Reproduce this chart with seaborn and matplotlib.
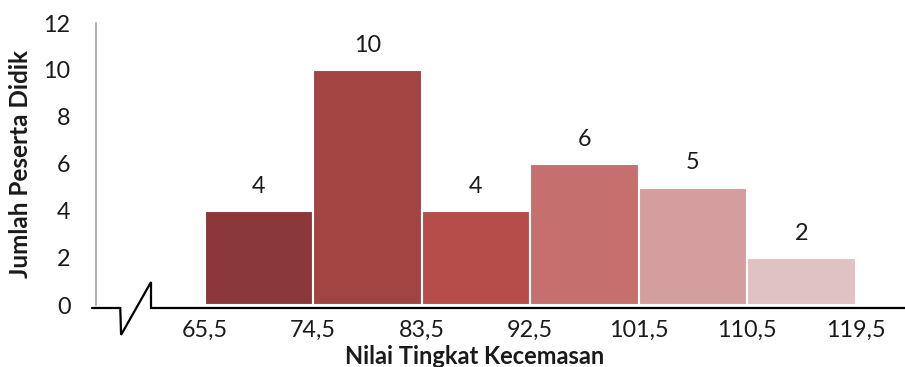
import matplotlib
matplotlib.use("Agg")
import matplotlib.pyplot as plt
import seaborn as sns
import pandas as pd

# Class boundaries and frequencies
boundaries = [65.5, 74.5, 83.5, 92.5, 101.5, 110.5, 119.5]
counts = [4, 10, 4, 6, 5, 2]
colors = ["#8B3938", "#A24441", "#B64D4A", "#C5706E", "#D59E9E", "#E1C2C3"]
tick_labels = ["65,5", "74,5", "83,5", "92,5", "101,5", "110,5", "119,5"]

mids = [(a + b) / 2 for a, b in zip(boundaries[:-1], boundaries[1:])]
df = pd.DataFrame({"mid": mids, "count": counts})

sns.set_theme(style="white")
plt.rcParams["font.family"] = ["Lato", "DejaVu Sans"]

fig = plt.figure(figsize=(9.05, 3.67), dpi=100)
ax = fig.add_axes([96 / 905, 1 - 305 / 367, 809 / 905, 282 / 367])

sns.barplot(data=df, x="mid", y="count", hue="mid", palette=colors,
            native_scale=True, width=1.0, legend=False, ax=ax,
            edgecolor="white", linewidth=1.5, saturation=1)

# value labels above each bar
for m, c in zip(mids, counts):
    ax.annotate(str(c), (m, c), xytext=(0, 13), textcoords="offset points",
                ha="center", va="baseline", fontsize=16.8, color="#1a1a1a")

ax.set_xlim(56.5, 123.6)
ax.set_ylim(0, 12)
ax.set_yticks(range(0, 13, 2))
ax.set_xticks(boundaries)
ax.set_xticklabels(tick_labels)
ax.tick_params(axis="both", length=0, labelsize=16.8, colors="#1a1a1a")
ax.tick_params(axis="x", pad=10.5)
ax.tick_params(axis="y", pad=18.4)

for s in ["top", "right", "bottom"]:
    ax.spines[s].set_visible(False)
ax.spines["left"].set_color("#A0A0A0")
ax.spines["left"].set_linewidth(1.2)

# horizontal axis with a break mark near the origin
bx = [-0.005, 0.030, 0.031, 0.068, 0.068, 1.01]
by = [-0.0106, -0.0106, -0.106, 0.0816, -0.0106, -0.0106]
ax.plot(bx, by, transform=ax.transAxes, color="black", lw=1.6,
        clip_on=False, solid_joinstyle="miter")

ax.set_xlabel("Nilai Tingkat Kecemasan", fontsize=17, fontweight="bold",
              color="#1a1a1a")
ax.xaxis.label.set_va("baseline")
ax.xaxis.set_label_coords(0.4685, -0.209)
ax.set_ylabel("Jumlah Peserta Didik", fontsize=17.5, fontweight="bold",
              color="#1a1a1a", labelpad=8)

fig.savefig("out.png", dpi=100)
